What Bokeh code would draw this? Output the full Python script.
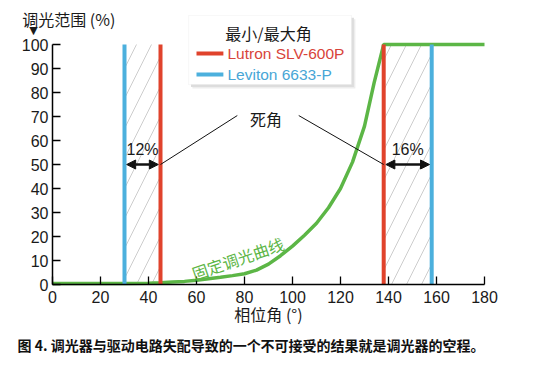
from bokeh.plotting import figure
from bokeh.embed import file_html
from bokeh.resources import INLINE
from bokeh.models import Range1d, FixedTicker, Label, BoxAnnotation, Arrow, NormalHead

# ---- data ----
x_ticks = [0, 20, 40, 60, 80, 100, 120, 140, 160, 180]
y_ticks = [0, 10, 20, 30, 40, 50, 60, 70, 80, 90, 100]

curve_angle = [0, 20, 30, 40, 45, 50, 55, 60, 65, 70, 75, 80, 85, 90, 95, 100,
               105, 110, 115, 120, 125, 130, 134, 138, 180]
curve_level = [0.4, 0.4, 0.4, 0.5, 0.7, 1.0, 1.3, 1.8, 2.4, 3.0, 3.7, 4.5, 6.0, 8.5, 12.0, 16.0,
               20.5, 25.5, 32, 40, 51, 66, 84, 100, 100]

lutron_name = "Lutron SLV-600P"
lutron_min, lutron_max = 45, 138
leviton_name = "Leviton 6633-P"
leviton_min, leviton_max = 30, 158

dead_low_pct = "12%"
dead_high_pct = "16%"
arrow_level = 50

RED = "#e0432c"
BLUE = "#4cb0dd"
GREEN = "#5cb646"
CJK = "Noto Sans CJK SC"
LAT = "Liberation Sans"

W, H = 533, 377
PX = 2.4          # pixels per data unit
X0_PX, Y0_PX = 52, 284  # where the data origin sits on the canvas

p = figure(width=W, height=H, output_backend="svg", toolbar_location=None, title=None,
           x_range=Range1d(-X0_PX / PX, (W - X0_PX) / PX),
           y_range=Range1d(-(H - Y0_PX) / PX, Y0_PX / PX),
           min_border=0, min_border_left=0, min_border_right=0,
           min_border_top=0, min_border_bottom=0)
p.outline_line_color = None
p.xgrid.visible = False
p.ygrid.visible = False
p.background_fill_color = "white"
p.border_fill_color = "white"

for ax in (p.xaxis[0], p.yaxis[0]):
    ax.fixed_location = 0
    ax.axis_line_color = "black"
    ax.axis_line_width = 1.5
    ax.major_tick_in = 8
    ax.major_tick_out = 0
    ax.major_tick_line_color = "black"
    ax.major_tick_line_width = 1.3
    ax.minor_tick_line_color = None
    ax.major_label_text_font = LAT
    ax.major_label_text_font_size = "16px"
    ax.major_label_text_color = "#1a1a1a"

p.xaxis.ticker = FixedTicker(ticks=x_ticks)
p.yaxis.ticker = FixedTicker(ticks=y_ticks)
p.xaxis.bounds = (0, 180)
p.yaxis.bounds = (0, 100)
p.xaxis.major_label_standoff = 6
p.yaxis.major_label_standoff = 4

# hatched dead zones
p.quad(left=[leviton_min, lutron_max], right=[lutron_min, leviton_max], bottom=0, top=100,
       fill_color=None, line_color=None, hatch_pattern="/", hatch_color="#cdcdcd",
       hatch_scale=30, hatch_weight=1)

# green curve
p.line(curve_angle, curve_level, line_color=GREEN, line_width=3.5)

# vertical limits
p.segment(x0=[lutron_min, lutron_max], y0=0, x1=[lutron_min, lutron_max], y1=100,
          line_color=RED, line_width=4)
p.segment(x0=[leviton_min, leviton_max], y0=0, x1=[leviton_min, leviton_max], y1=100,
          line_color=BLUE, line_width=4)

# arrows
for a, b in ((leviton_min, lutron_min), (lutron_max, leviton_max)):
    p.add_layout(Arrow(x_start=a + 0.9, y_start=arrow_level, x_end=b - 0.9, y_end=arrow_level,
                       line_width=2.5, line_color="#111",
                       start=NormalHead(size=9, fill_color="#111", line_color="#111"),
                       end=NormalHead(size=9, fill_color="#111", line_color="#111")))

p.add_layout(Label(x=(leviton_min + lutron_min) / 2, y=56.3, text=dead_low_pct,
                   text_font=LAT, text_font_size="16px", text_align="center",
                   text_baseline="middle", text_color="#1a1a1a"))
p.add_layout(Label(x=(lutron_max + leviton_max) / 2, y=56.3, text=dead_high_pct,
                   text_font=LAT, text_font_size="16px", text_align="center",
                   text_baseline="middle", text_color="#1a1a1a"))

# leader lines to 死角
p.segment(x0=[lutron_min, 102.6], y0=[arrow_level, 70.4], x1=[77, lutron_max], y1=[70.4, arrow_level],
          line_color="#111", line_width=1)
p.add_layout(Label(x=89, y=69, text="死角", text_font=CJK, text_font_size="16px",
                   text_align="center", text_baseline="middle", text_color="#1a1a1a"))

# curve label
p.add_layout(Label(x=77.2, y=10.9, text="固定调光曲线", text_font=CJK, text_font_size="16px",
                   text_align="center", text_baseline="middle", text_color=GREEN, angle=0.33))

# legend box
for dx, dy, c in ((1.6, -1.6, "#ededed"), (1.0, -1.0, "#dddddd")):
    p.add_layout(BoxAnnotation(left=56.7 + dx, right=124.6 + dx, bottom=83.3 + dy, top=112.1 + dy,
                               fill_color=c, fill_alpha=1, line_color=None, level="underlay"))
p.add_layout(BoxAnnotation(left=56.7, right=124.6, bottom=83.3, top=112.1,
                           fill_color="white", fill_alpha=1, line_color="#e6e6e6",
                           line_width=1, level="underlay"))
p.add_layout(Label(x=90, y=105, text="最小/最大角", text_font=CJK, text_font_size="16px",
                   text_align="center", text_baseline="middle", text_color="#1a1a1a"))
p.segment(x0=[60, 60], y0=[96.25, 87.5], x1=[71.2, 71.2], y1=[96.25, 87.5],
          line_color=[RED, BLUE], line_width=4)
p.add_layout(Label(x=72.9, y=96.25, text=lutron_name, text_font=LAT, text_font_size="15.5px",
                   text_baseline="middle", text_color="#d8443a"))
p.add_layout(Label(x=72.9, y=87.5, text=leviton_name, text_font=LAT, text_font_size="15.5px",
                   text_baseline="middle", text_color="#48a6d6"))

# axis titles
p.add_layout(Label(x=-12.6, y=110.7, text="调光范围 (%)", text_font=CJK, text_font_size="16px",
                   text_baseline="middle", text_color="#1a1a1a"))
p.add_layout(Label(x=-7.9, y=105.8, text="▼", text_font="DejaVu Sans", text_font_size="11px",
                   text_align="center", text_baseline="middle", text_color="#1a1a1a"))
p.add_layout(Label(x=90, y=-12.1, text="相位角 (°)", text_font=CJK, text_font_size="16px",
                   text_align="center", text_baseline="middle", text_color="#1a1a1a"))

# caption
p.add_layout(Label(x=-14.6, y=-25.4, text="图 4. 调光器与驱动电路失配导致的一个不可接受的结果就是调光器的空程。",
                   text_font=CJK, text_font_size="14px", text_font_style="bold",
                   text_baseline="middle", text_color="#111"))

open("out.html", "w").write(file_html(p, INLINE))
